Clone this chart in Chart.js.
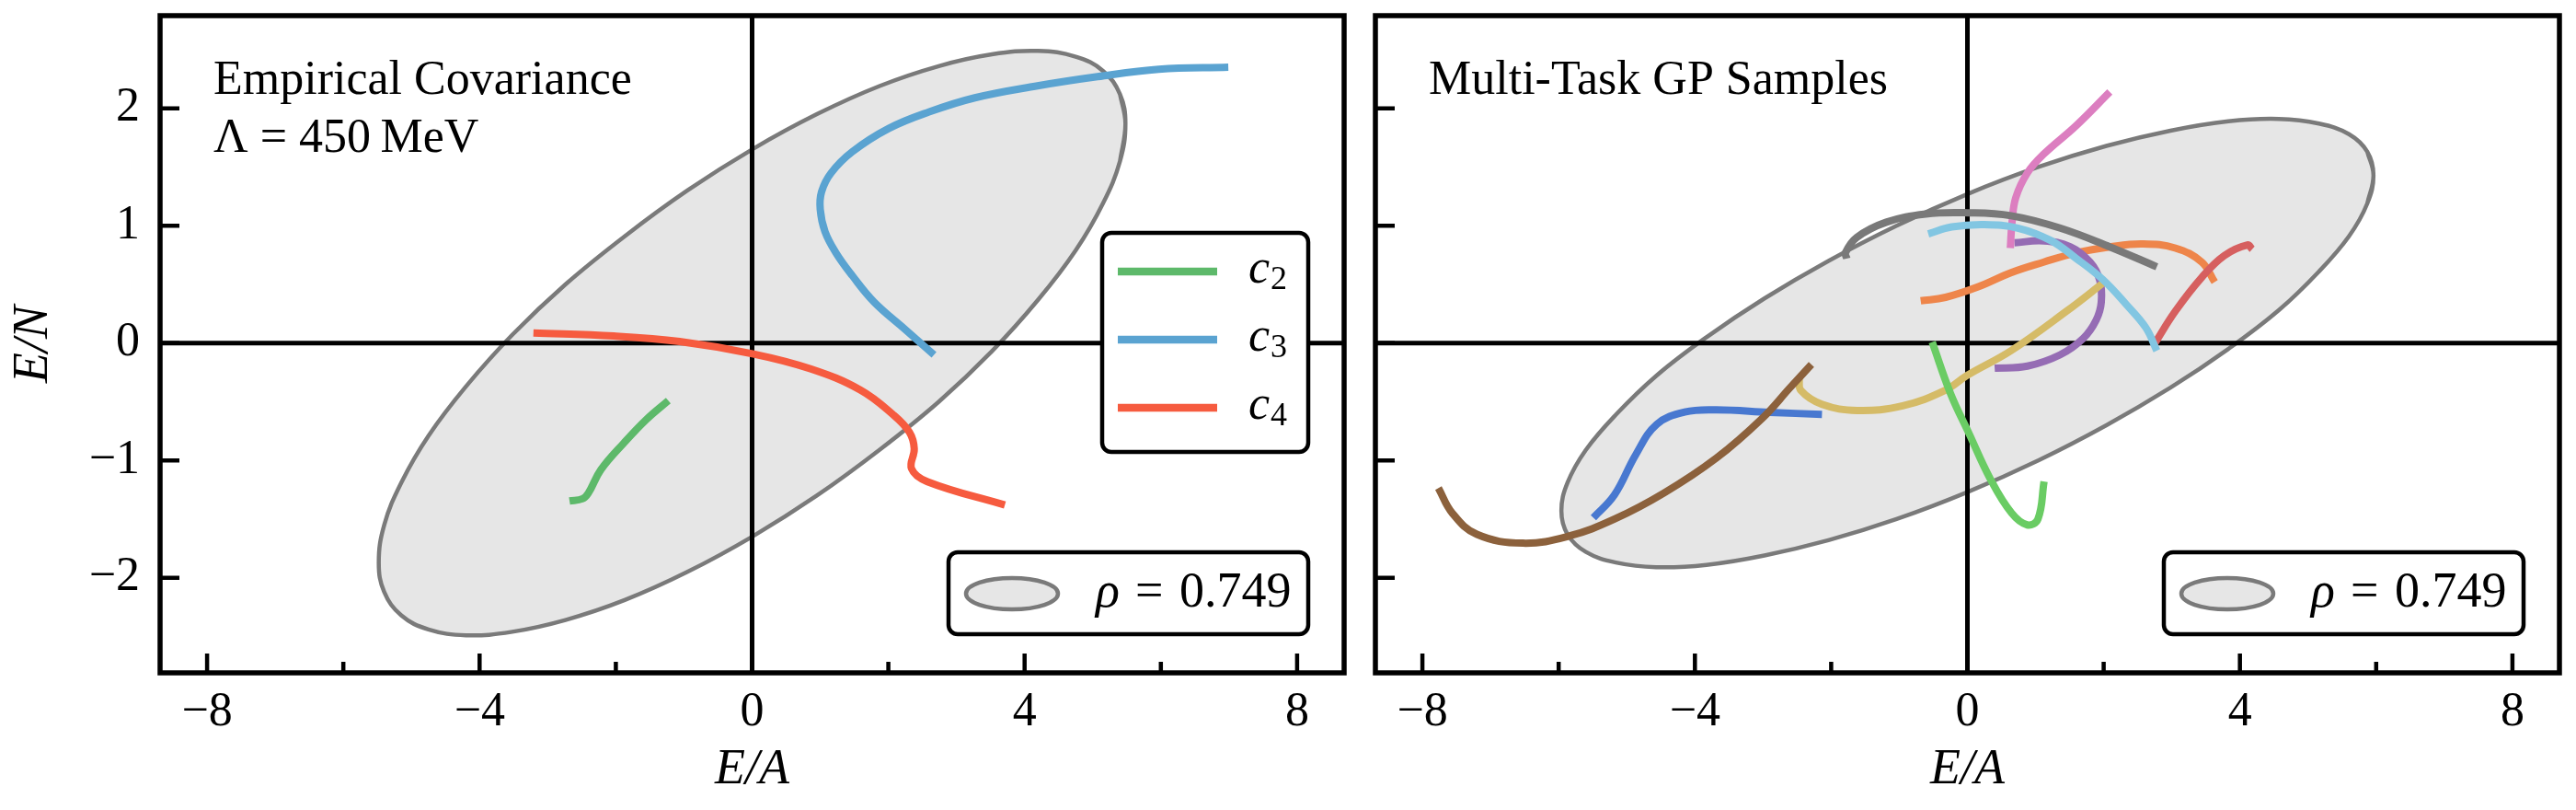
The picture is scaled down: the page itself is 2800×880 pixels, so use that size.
<!DOCTYPE html>
<html>
<head>
<meta charset="utf-8">
<script src="https://cdn.jsdelivr.net/npm/chart.js@4.4.1/dist/chart.umd.min.js"></script>
<style>
html,body{margin:0;padding:0;background:#fff;}
#wrap{position:relative;width:2800px;height:880px;background:#fff;}
#c1{position:absolute;left:0;top:0;width:1480px;height:880px;}
#c2{position:absolute;left:1480px;top:0;width:1320px;height:880px;}
</style>
</head>
<body>
<div id="wrap">
<canvas id="c1" width="1480" height="880"></canvas>
<canvas id="c2" width="1320" height="880"></canvas>
</div>
<script>
// ---------- axes ----------
const xTicks = [-8, -4, 0, 4, 8];
const xMinorTicks = [-6, -2, 2, 6];
const yTicks = [-2, -1, 0, 1, 2];
const xLimits = [-8.69, 8.69];
const yLimits = [-2.81, 2.79];

// ---------- texts ----------
const leftTitle = ['Empirical Covariance', 'Λ = 450\u2009MeV'];
const rightTitle = ['Multi-Task GP Samples'];
const xTitle = 'E/A';
const yTitle = 'E/N';
const curveSubscripts = ['2', '3', '4'];
const rhoValue = '0.749';

// ---------- left panel: empirical covariance ellipse (outline, seam overlapped) ----------
const leftEllipseX = [5.40, 5.48, 5.40, 5.15, 4.75, 4.20, 3.52, 2.74, 1.87, 0.95, 0, -0.95, -1.87, -2.74, -3.52, -4.20, -4.75, -5.15, -5.40, -5.48, -5.40, -5.15, -4.75, -4.20, -3.52, -2.74, -1.87, -0.95, 0, 0.95, 1.87, 2.74, 3.52, 4.20, 4.75, 5.15, 5.40, 5.48, 5.40];
const leftEllipseY = [1.55, 1.87, 2.12, 2.32, 2.44, 2.49, 2.46, 2.36, 2.19, 1.95, 1.65, 1.30, 0.91, 0.50, 0.07, -0.37, -0.79, -1.19, -1.55, -1.87, -2.12, -2.32, -2.44, -2.49, -2.46, -2.36, -2.19, -1.95, -1.65, -1.30, -0.91, -0.50, -0.07, 0.37, 0.79, 1.19, 1.55, 1.87, 2.12];

const c2X = [-2.68, -2.49, -2.405, -2.22, -1.88, -1.55, -1.23];
const c2Y = [-1.345, -1.327, -1.28, -1.08, -0.85, -0.65, -0.49];
const c3X = [6.99, 5.97, 5.07, 4.17, 3.27, 2.60, 2.01, 1.47, 1.16, 1.02, 1.00, 1.07, 1.23, 1.47, 1.79, 2.24, 2.67];
const c3Y = [2.35, 2.333, 2.27, 2.19, 2.09, 1.97, 1.83, 1.63, 1.45, 1.29, 1.14, 0.95, 0.77, 0.575, 0.35, 0.12, -0.10];
const c4X = [-3.21, -2.03, -1.065, 0.005, 0.86, 1.59, 2.07, 2.31, 2.38, 2.34, 2.57, 3.71];
const c4Y = [0.086, 0.06, 0.013, -0.091, -0.22, -0.40, -0.61, -0.76, -0.90, -1.07, -1.18, -1.38];

// ---------- right panel: multi-task GP samples ----------
const rightEllipseX = [5.87, 5.96, 5.87, 5.60, 5.16, 4.57, 3.83, 2.98, 2.04, 1.04, 0, -1.04, -2.04, -2.98, -3.83, -4.57, -5.16, -5.60, -5.87, -5.96, -5.87, -5.60, -5.16, -4.57, -3.83, -2.98, -2.04, -1.04, 0, 1.04, 2.04, 2.98, 3.83, 4.57, 5.16, 5.60, 5.87, 5.96, 5.87];
const rightEllipseY = [1.19, 1.43, 1.63, 1.78, 1.87, 1.91, 1.89, 1.81, 1.68, 1.50, 1.27, 1.00, 0.70, 0.38, 0.05, -0.28, -0.61, -0.91, -1.19, -1.43, -1.63, -1.78, -1.87, -1.91, -1.89, -1.81, -1.68, -1.50, -1.27, -1.00, -0.70, -0.38, -0.05, 0.28, 0.61, 0.91, 1.19, 1.43, 1.63];

const sBlueX = [-5.49, -5.18, -4.87, -4.56, -4.15, -3.685, -2.91, -2.135];
const sBlueY = [-1.489, -1.293, -0.953, -0.692, -0.588, -0.569, -0.59, -0.608];
const sOrangeX = [-0.686, -0.32, 0.16, 0.64, 1.12, 1.60, 2.09, 2.57, 3.05, 3.44, 3.63];
const sOrangeY = [0.36, 0.39, 0.48, 0.60, 0.69, 0.77, 0.82, 0.845, 0.81, 0.69, 0.52];
const sGreenX = [-0.517, -0.247, 0.023, 0.338, 0.65, 0.877, 1.035, 1.125];
const sGreenY = [0.008, -0.431, -0.77, -1.16, -1.45, -1.549, -1.50, -1.18];
const sRedX = [2.74, 3.05, 3.44, 3.77, 4.11, 4.18];
const sRedY = [-0.0125, 0.27, 0.56, 0.745, 0.836, 0.80];
const sPurpleX = [0.69, 1.12, 1.51, 1.80, 1.94, 1.965, 1.89, 1.70, 1.36, 0.88, 0.40];
const sPurpleY = [0.855, 0.87, 0.82, 0.69, 0.54, 0.35, 0.196, 0.04, -0.10, -0.196, -0.214];
const sBrownX = [-7.765, -7.56, -7.20, -6.525, -5.85, -5.18, -4.46, -3.685, -3.01, -2.60, -2.29];
const sBrownY = [-1.235, -1.45, -1.63, -1.705, -1.645, -1.50, -1.28, -0.98, -0.64, -0.378, -0.183];
const sPinkX = [0.63, 0.655, 0.71, 0.88, 1.12, 1.60, 2.09];
const sPinkY = [0.81, 1.03, 1.24, 1.45, 1.61, 1.855, 2.14];
const sGrayX = [-1.77, -1.79, -1.625, -1.19, -0.61, 0.004, 0.64, 1.36, 2.09, 2.78];
const sGrayY = [0.72, 0.77, 0.90, 1.03, 1.10, 1.11, 1.085, 0.98, 0.82, 0.65];
const sOliveX = [-2.47, -2.445, -2.135, -1.62, -0.95, -0.33, 0.0, 0.64, 1.46, 2.01];
const sOliveY = [-0.30, -0.404, -0.522, -0.574, -0.535, -0.404, -0.274, -0.065, 0.274, 0.52];
const sCyanX = [-0.575, -0.23, 0.25, 0.74, 1.22, 1.60, 1.99, 2.33, 2.62, 2.78];
const sCyanY = [0.93, 0.99, 1.01, 0.98, 0.875, 0.72, 0.54, 0.33, 0.13, -0.065];

// ---------- styles ----------
const FONT = 'Liberation Serif';
const COL = {
  c2: '#5db96a', c3: '#5aa3d1', c4: '#f65b3f',
  blue: '#4878d0', orange: '#ee854a', green: '#6acc64', red: '#d65f5f', purple: '#956cb4',
  brown: '#8c613c', pink: '#dc7ec0', gray: '#797979', olive: '#d5bb67', cyan: '#82c6e2',
  ellFill: '#e6e6e6', ellEdge: '#7a7a7a'
};

Chart.defaults.font.family = FONT;
Chart.defaults.color = '#000';

function pts(xs, ys) { return xs.map((x, i) => ({ x: x, y: ys[i] })); }
function fmt(v) { return v < 0 ? '\u2212' + Math.abs(v) : String(v); }

function curve(label, xs, ys, color, order) {
  return { label, data: pts(xs, ys), showLine: true, borderColor: color, backgroundColor: color,
    borderWidth: 8, pointRadius: 0, pointHoverRadius: 0, tension: 0.4, fill: false, order,
    borderCapStyle: 'butt', borderJoinStyle: 'round' };
}
function ellipseDs(xs, ys) {
  return { label: 'ellipse', data: pts(xs, ys), showLine: true, borderColor: COL.ellEdge,
    backgroundColor: COL.ellFill, borderWidth: 4.5, pointRadius: 0, pointHoverRadius: 0,
    tension: 0.4, fill: 'shape', order: 1000 };
}

function roundRect(ctx, x, y, w, h, r) {
  ctx.beginPath();
  ctx.moveTo(x + r, y);
  ctx.lineTo(x + w - r, y); ctx.arcTo(x + w, y, x + w, y + r, r);
  ctx.lineTo(x + w, y + h - r); ctx.arcTo(x + w, y + h, x + w - r, y + h, r);
  ctx.lineTo(x + r, y + h); ctx.arcTo(x, y + h, x, y + h - r, r);
  ctx.lineTo(x, y + r); ctx.arcTo(x, y, x + r, y, r);
  ctx.closePath();
}

const decor = {
  id: 'decor',
  afterDatasetDraw(chart, args, o) {
    const ds = chart.data.datasets[args.index];
    if (ds.label !== 'ellipse') return;
    const { ctx, chartArea: a, scales } = chart;
    const x0 = scales.x.getPixelForValue(0), y0 = scales.y.getPixelForValue(0);
    ctx.save();
    ctx.strokeStyle = '#000'; ctx.lineWidth = 5; ctx.lineCap = 'butt';
    ctx.beginPath();
    ctx.moveTo(a.left, y0); ctx.lineTo(a.right, y0);
    ctx.moveTo(x0, a.top); ctx.lineTo(x0, a.bottom);
    ctx.stroke();
    ctx.restore();
  },
  afterDatasetsDraw(chart, args, o) {
    const { ctx, chartArea: a, scales } = chart;
    ctx.save();
    // inward ticks
    ctx.strokeStyle = '#000'; ctx.lineWidth = 4.5; ctx.lineCap = 'butt';
    ctx.beginPath();
    for (const v of yTicks) { const p = scales.y.getPixelForValue(v); ctx.moveTo(a.left, p); ctx.lineTo(a.left + 21, p); }
    for (const v of xTicks) { const p = scales.x.getPixelForValue(v); ctx.moveTo(p, a.bottom); ctx.lineTo(p, a.bottom - 21); }
    for (const v of xMinorTicks) { const p = scales.x.getPixelForValue(v); ctx.moveTo(p, a.bottom); ctx.lineTo(p, a.bottom - 12); }
    ctx.stroke();
    // frame
    ctx.lineWidth = 5.5; ctx.lineJoin = 'miter';
    ctx.strokeRect(a.left, a.top, a.right - a.left, a.bottom - a.top);
    // panel title text
    ctx.fillStyle = '#000'; ctx.textAlign = 'left'; ctx.textBaseline = 'alphabetic';
    ctx.font = '52px "' + FONT + '"';
    o.title.forEach((t, i) => ctx.fillText(t, a.left + 58, a.top + 85 + i * 63));

    // curve legend
    if (o.curveLegend) {
      const bw = 224, bh = 238;
      const bx = a.right - 39 - bw, by = a.top + 236;
      roundRect(ctx, bx, by, bw, bh, 10);
      ctx.fillStyle = '#fff'; ctx.fill();
      ctx.lineWidth = 4.5; ctx.strokeStyle = '#000'; ctx.stroke();
      const items = chart.data.datasets.filter(d => d.label !== 'ellipse');
      items.sort((p, q) => p.legendIndex - q.legendIndex);
      items.forEach((d, i) => {
        const yy = by + 42 + i * 74;
        ctx.strokeStyle = d.borderColor; ctx.lineWidth = 8.5; ctx.lineCap = 'butt';
        ctx.beginPath(); ctx.moveTo(bx + 17, yy); ctx.lineTo(bx + 125, yy); ctx.stroke();
        ctx.fillStyle = '#000';
        ctx.font = 'italic 52px "' + FONT + '"';
        ctx.fillText('c', bx + 159, yy + 12);
        const w = ctx.measureText('c').width;
        ctx.font = '36px "' + FONT + '"';
        ctx.fillText(d.sub, bx + 159 + w + 1, yy + 19);
      });
    }
    // rho legend
    {
      const bw = 391, bh = 89;
      const bx = a.right - 39 - bw, by = a.bottom - 131;
      roundRect(ctx, bx, by, bw, bh, 10);
      ctx.fillStyle = '#fff'; ctx.fill();
      ctx.lineWidth = 4.5; ctx.strokeStyle = '#000'; ctx.stroke();
      ctx.beginPath();
      ctx.ellipse(bx + 69, by + 45, 50, 17, 0, 0, Math.PI * 2);
      ctx.fillStyle = COL.ellFill; ctx.fill();
      ctx.strokeStyle = COL.ellEdge; ctx.lineWidth = 4.5; ctx.stroke();
      ctx.fillStyle = '#000';
      ctx.font = 'italic 54px "' + FONT + '"';
      ctx.fillText('ρ', bx + 160, by + 59);
      ctx.font = '54px "' + FONT + '"';
      ctx.fillText('=', bx + 203, by + 59);
      ctx.fillText(rhoValue, bx + 251, by + 59);
    }
    ctx.restore();
  }
};

function scalesCfg(showYLabels, yAxisWidth) {
  return {
    x: {
      type: 'linear', min: xLimits[0], max: xLimits[1],
      grid: { display: false, drawTicks: false }, border: { display: false },
      afterBuildTicks: s => { s.ticks = xTicks.map(v => ({ value: v })); },
      afterFit: s => { s.height = 149; s.paddingLeft = 0; s.paddingRight = 0; },
      ticks: { font: { size: 52, lineHeight: 1 }, padding: 17, maxRotation: 0, autoSkip: false, color: '#000',
        callback: v => fmt(v) },
      title: { display: true, text: xTitle, font: { size: 54, style: 'italic', lineHeight: 1 },
        padding: { top: 0, bottom: 16 }, color: '#000' }
    },
    y: {
      type: 'linear', min: yLimits[0], max: yLimits[1],
      grid: { display: false, drawTicks: false }, border: { display: false },
      afterBuildTicks: s => { s.ticks = yTicks.map(v => ({ value: v })); },
      afterFit: s => { s.width = yAxisWidth; s.paddingTop = 0; s.paddingBottom = 0; },
      ticks: { display: showYLabels, font: { size: 52, lineHeight: 1 }, padding: 22, color: '#000',
        callback: v => fmt(v) },
      title: { display: showYLabels, text: yTitle, font: { size: 54, style: 'italic', lineHeight: 1 },
        padding: { top: 10, bottom: 0 }, color: '#000' }
    }
  };
}

const commonOpts = { responsive: false, maintainAspectRatio: false, animation: false, devicePixelRatio: 1,
  events: [] };

// left chart
const leftDatasets = [
  Object.assign(curve('c2', c2X, c2Y, COL.c2, 3), { sub: curveSubscripts[0], legendIndex: 0 }),
  Object.assign(curve('c3', c3X, c3Y, COL.c3, 2), { sub: curveSubscripts[1], legendIndex: 1 }),
  Object.assign(curve('c4', c4X, c4Y, COL.c4, 1), { sub: curveSubscripts[2], legendIndex: 2 }),
  ellipseDs(leftEllipseX, leftEllipseY)
];
new Chart(document.getElementById('c1'), {
  type: 'scatter',
  data: { datasets: leftDatasets },
  options: Object.assign({}, commonOpts, {
    layout: { padding: { left: 0, top: 17, right: 19, bottom: 0 } },
    scales: scalesCfg(true, 174),
    plugins: { legend: { display: false }, tooltip: { enabled: false },
      decor: { title: leftTitle, curveLegend: true } }
  }),
  plugins: [decor]
});

// right chart (draw order bottom -> top: higher order drawn first)
const rightDatasets = [
  curve('s-blue', sBlueX, sBlueY, COL.blue, 10),
  curve('s-orange', sOrangeX, sOrangeY, COL.orange, 9),
  curve('s-purple', sPurpleX, sPurpleY, COL.purple, 8),
  curve('s-pink', sPinkX, sPinkY, COL.pink, 7),
  curve('s-olive', sOliveX, sOliveY, COL.olive, 6),
  curve('s-brown', sBrownX, sBrownY, COL.brown, 5),
  curve('s-green', sGreenX, sGreenY, COL.green, 4),
  curve('s-red', sRedX, sRedY, COL.red, 3),
  curve('s-gray', sGrayX, sGrayY, COL.gray, 2),
  curve('s-cyan', sCyanX, sCyanY, COL.cyan, 1),
  ellipseDs(rightEllipseX, rightEllipseY)
];
new Chart(document.getElementById('c2'), {
  type: 'scatter',
  data: { datasets: rightDatasets },
  options: Object.assign({}, commonOpts, {
    layout: { padding: { left: 0, top: 17, right: 18, bottom: 0 } },
    scales: scalesCfg(false, 15),
    plugins: { legend: { display: false }, tooltip: { enabled: false },
      decor: { title: rightTitle, curveLegend: false } }
  }),
  plugins: [decor]
});
</script>
</body>
</html>
